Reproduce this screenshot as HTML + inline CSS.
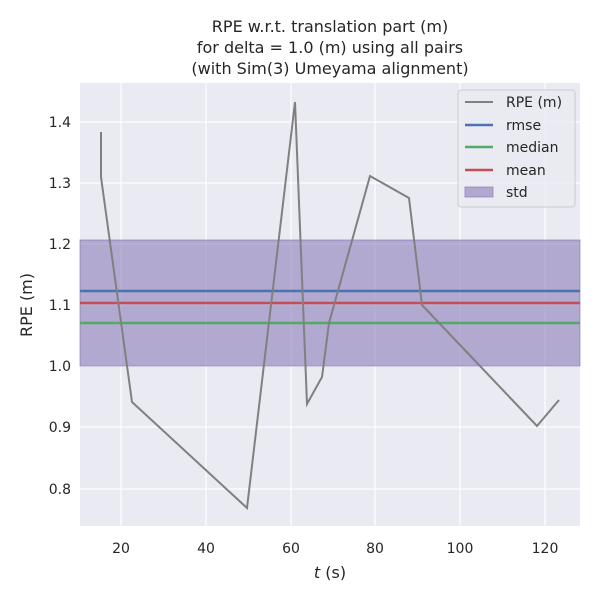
<!DOCTYPE html>
<html><head><style>body{margin:0;background:#fff}svg{font-family:"DejaVu Sans","Liberation Sans",sans-serif}</style></head><body>
<svg width="600" height="600" xmlns="http://www.w3.org/2000/svg">
<rect width="600" height="600" fill="#fff"/>
<rect x="80" y="83" width="500" height="443" fill="#eaeaf2"/>
<g stroke="#fff" stroke-width="1.2">
<line x1="121" y1="83" x2="121" y2="526"/><line x1="206" y1="83" x2="206" y2="526"/><line x1="291" y1="83" x2="291" y2="526"/><line x1="375" y1="83" x2="375" y2="526"/><line x1="460" y1="83" x2="460" y2="526"/><line x1="545" y1="83" x2="545" y2="526"/>
<line x1="80" y1="122" x2="580" y2="122"/><line x1="80" y1="183" x2="580" y2="183"/><line x1="80" y1="244" x2="580" y2="244"/><line x1="80" y1="305" x2="580" y2="305"/><line x1="80" y1="366" x2="580" y2="366"/><line x1="80" y1="427" x2="580" y2="427"/><line x1="80" y1="489" x2="580" y2="489"/>
</g>
<rect x="80" y="240" width="500" height="126" fill="#8172b3" fill-opacity="0.55" stroke="#8172b3" stroke-opacity="0.6"/>
<line x1="80" y1="291" x2="580" y2="291" stroke="#4c72b0" stroke-width="2.5"/>
<line x1="80" y1="323" x2="580" y2="323" stroke="#55a868" stroke-width="2.5"/>
<line x1="80" y1="303" x2="580" y2="303" stroke="#c44e52" stroke-width="2.5"/>
<polyline fill="none" stroke="#808080" stroke-width="2" points="101,132 101,177 132,402 247,508 295,102 307,404 322,377 329,323 370,176 409,198 422,305 537,426 559,400"/>
<g font-size="14" fill="#262626" text-anchor="middle">
<text x="121" y="553">20</text><text x="206" y="553">40</text><text x="291" y="553">60</text><text x="375" y="553">80</text><text x="460" y="553">100</text><text x="545" y="553">120</text>
</g>
<g font-size="14" fill="#262626" text-anchor="end">
<text x="71" y="127">1.4</text><text x="71" y="188">1.3</text><text x="71" y="249">1.2</text><text x="71" y="310">1.1</text><text x="71" y="371">1.0</text><text x="71" y="432">0.9</text><text x="71" y="494">0.8</text>
</g>
<text x="330" y="578" font-size="16" fill="#262626" text-anchor="middle"><tspan font-style="italic">t</tspan> (s)</text>
<text transform="translate(32,305) rotate(-90)" font-size="16" fill="#262626" text-anchor="middle">RPE (m)</text>
<g font-size="16" fill="#262626" text-anchor="middle">
<text x="330" y="32">RPE w.r.t. translation part (m)</text>
<text x="330" y="53">for delta = 1.0 (m) using all pairs</text>
<text x="330" y="74">(with Sim(3) Umeyama alignment)</text>
</g>
<rect x="458" y="90" width="117" height="117" rx="3" fill="#eaeaf2" fill-opacity="0.8" stroke="#ccc"/>
<g font-size="14" fill="#262626">
<line x1="465" y1="102" x2="493" y2="102" stroke="#808080" stroke-width="2"/><text x="506" y="107">RPE (m)</text>
<line x1="465" y1="125" x2="493" y2="125" stroke="#4c72b0" stroke-width="2.5"/><text x="506" y="130">rmse</text>
<line x1="465" y1="147" x2="493" y2="147" stroke="#55a868" stroke-width="2.5"/><text x="506" y="152">median</text>
<line x1="465" y1="170" x2="493" y2="170" stroke="#c44e52" stroke-width="2.5"/><text x="506" y="175">mean</text>
<rect x="465" y="187" width="28" height="10" fill="#8172b3" fill-opacity="0.55" stroke="#8172b3" stroke-opacity="0.6"/><text x="506" y="197">std</text>
</g>
</svg>
</body></html>
